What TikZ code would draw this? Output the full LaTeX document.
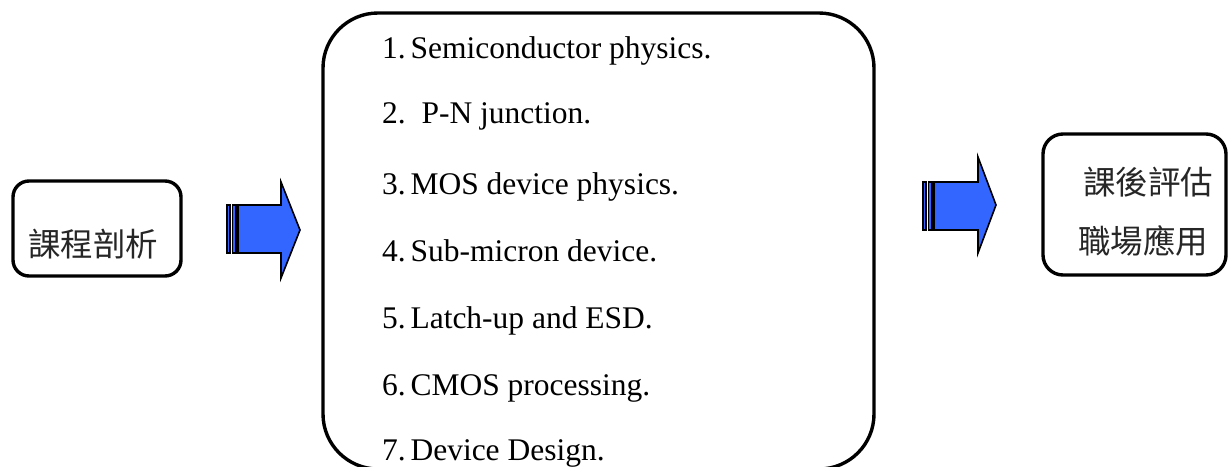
\documentclass[tikz,border=0pt]{standalone}
\usepackage{fontspec}
\setmainfont{Liberation Serif}
\newfontfamily\cjk{Noto Sans CJK TC}
\definecolor{arrowblue}{HTML}{3366FF}
\begin{document}
\begin{tikzpicture}[x=1pt,y=-1pt,
  boxstyle/.style={draw=black, line width=3.4pt, fill=white},
  itemtext/.style={anchor=base west, inner sep=0pt, font=\fontsize{31.5}{36}\selectfont},
  cjktext/.style={inner sep=0pt, font=\cjk\fontsize{32.5}{36}\selectfont, text=black!85},
  arrowpart/.style={fill=arrowblue, draw=black, line width=1.6pt, line join=miter}
]
\useasboundingbox (0,0) rectangle (1228,466);
\clip (0,0) rectangle (1228,466);
\fill[white] (0,0) rectangle (1228,466);

% left box
\draw[boxstyle, rounded corners=16pt] (13,181) rectangle (181,276);
\node[cjktext] (left) at (93,244) {課程剖析};

% main box
\draw[boxstyle, rounded corners=55pt] (323,13) rectangle (874,469);
\node[itemtext] (i1) at (382,58) {1.\hspace{0.15em}Semiconductor physics.};
\node[itemtext] (i2) at (382,123) {2.\ \ P-N junction.};
\node[itemtext] (i3) at (382,194) {3.\hspace{0.15em}MOS device physics.};
\node[itemtext] (i4) at (382,261) {4.\hspace{0.15em}Sub-micron device.};
\node[itemtext] (i5) at (382,328) {5.\hspace{0.15em}Latch-up and ESD.};
\node[itemtext] (i6) at (382,395) {6.\hspace{0.15em}CMOS processing.};
\node[itemtext] (i7) at (382,460) {7.\hspace{0.15em}Device Design.};

% right box
\draw[boxstyle, rounded corners=20pt] (1043,134) rectangle (1226,275);
\node[cjktext] (r1) at (1148,182) {課後評估};
\node[cjktext] (r2) at (1143,241) {職場應用};

% arrow 1
\draw[arrowpart] (227,205) rectangle (230,253);
\draw[arrowpart] (232.5,205) rectangle (236,253);
\draw[arrowpart] (238,205) -- (281,205) -- (281,182) -- (300,230) -- (281,278) -- (281,253) -- (238,253) -- cycle;

% arrow 2
\draw[arrowpart] (923,182) rectangle (926,230);
\draw[arrowpart] (928.5,182) rectangle (932,230);
\draw[arrowpart] (934,182) -- (978,182) -- (978,157) -- (996,205) -- (978,253) -- (978,230) -- (934,230) -- cycle;
\end{tikzpicture}
\end{document}
